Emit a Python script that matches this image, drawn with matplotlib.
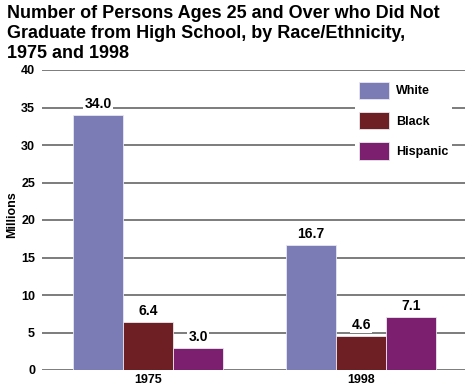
import matplotlib
matplotlib.use('Agg')
import matplotlib.pyplot as plt
import numpy as np

plt.rcParams['font.family'] = ['Liberation Sans', 'DejaVu Sans']
plt.rcParams['font.weight'] = 'bold'

years = ['1975', '1998']
groups = ['White', 'Black', 'Hispanic']
white = [34.0, 16.7]
black = [6.4, 4.6]
hispanic = [3.0, 7.1]
colors = ['#7b7bb5', '#6e1f24', '#7b1f6e']

fig = plt.figure(figsize=(4.67, 3.87), dpi=100)
ax = fig.add_axes([42/467, 17/387, 423/467, 300/387])

x = np.arange(len(years))
w = 0.235
for i, (vals, c, name) in enumerate(zip([white, black, hispanic], colors, groups)):
    bars = ax.bar(x + (i - 1) * w, vals, width=w, color=c, edgecolor='#e8e8f0',
                  linewidth=0.6, label=name, zorder=3)
    for b, v in zip(bars, vals):
        ax.text(b.get_x() + b.get_width() / 2, v + 0.5, '%.1f' % v, ha='center', va='bottom',
                fontsize=10, fontweight='bold', zorder=4,
                bbox=dict(facecolor='white', edgecolor='none', pad=1.0))

ax.set_ylim(0, 40)
ax.set_xlim(-0.498, 1.488)
ax.set_yticks(range(0, 41, 5))
ax.yaxis.grid(True, color='#666666', linewidth=1.2, zorder=0)
ax.tick_params(axis='y', length=0, pad=5, labelsize=9)
ax.tick_params(axis='x', length=0, pad=3, labelsize=9)
ax.set_xticks(x)
ax.set_xticklabels(years)
for s in ax.spines.values():
    s.set_visible(False)
fig.text(12/467, 1 - 215/387, 'Millions', rotation=90, ha='center', va='center',
         fontsize=9, fontweight='bold')

leg = ax.legend(loc='upper left', bbox_to_anchor=(0.725, 0.995), frameon=True,
                fontsize=9, handlelength=2.4, handleheight=1.8, labelspacing=1.0,
                borderpad=0.3, handletextpad=0.6)
leg.get_frame().set_edgecolor('none')
leg.get_frame().set_facecolor('white')
leg.get_frame().set_alpha(1)
leg.set_zorder(5)

fig.text(7/467, 1 - 5/387, 'Number of Persons Ages 25 and Over who Did Not\n'
         'Graduate from High School, by Race/Ethnicity,\n1975 and 1998',
         ha='left', va='top', fontsize=13, fontweight='bold', linespacing=1.25)

fig.savefig('out.png', dpi=100)
